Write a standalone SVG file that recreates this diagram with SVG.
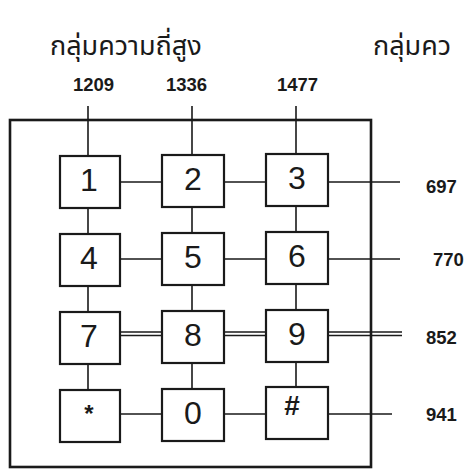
<svg xmlns="http://www.w3.org/2000/svg" width="474" height="470" viewBox="0 0 474 470">
<style>
.key rect{fill:#fff;stroke:#1a1a1a;stroke-width:2.2}
.key text{font-family:"Liberation Sans",Arial,sans-serif;font-size:32px;fill:#1a1a1a;text-anchor:middle}
.ln{stroke:#1a1a1a;stroke-width:1.6;fill:none}
.num{font-family:"Liberation Sans",Arial,sans-serif;font-size:18.5px;font-weight:bold;fill:#1a1a1a}
.th{font-family:"Noto Sans Thai","Noto Sans","DejaVu Sans",sans-serif;font-size:27px;fill:#1a1a1a}
</style>
<rect width="474" height="470" fill="#fff"/>
<text class="th" x="50" y="55">กลุ่มความถี่สูง</text>
<text class="th" x="373" y="55">กลุ่มคว</text>
<text class="num" x="73" y="91">1209</text>
<text class="num" x="166" y="91">1336</text>
<text class="num" x="277" y="91">1477</text>
<text class="num" x="426" y="193">697</text>
<text class="num" x="433" y="266">770</text>
<text class="num" x="426" y="344">852</text>
<text class="num" x="426" y="421">941</text>
<rect x="10" y="120" width="361" height="347" fill="none" stroke="#1a1a1a" stroke-width="2.6"/>
<g id="connectors" class="ln">
<path d="M88 106V155M88 207V233M88 285V311M88 363V389"/>
<path d="M192 106V155M192 207V233M192 285V311M192 363V389"/>
<path d="M296 106V155M296 207V233M296 285V311M296 363V389"/>
<path d="M120 182H162M224 182H266M328 182H400"/>
<path d="M120 259H162M224 259H266M328 259H400"/>
<path d="M120 332H162M224 332H266M328 332H402M120 335.5H162M224 335.5H266M328 335.5H402"/>
<path d="M120 414H162M224 414H266M328 414H392"/>
</g>
<g id="k1" class="key"><rect x="60" y="156" width="60" height="52"/><text x="89" y="191">1</text></g>
<g id="k2" class="key"><rect x="162" y="155" width="62" height="52"/><text x="193" y="190">2</text></g>
<g id="k3" class="key"><rect x="266" y="154" width="62" height="52"/><text x="297" y="189">3</text></g>
<g id="k4" class="key"><rect x="60" y="234" width="60" height="52"/><text x="89" y="269">4</text></g>
<g id="k5" class="key"><rect x="162" y="233" width="62" height="52"/><text x="193" y="268">5</text></g>
<g id="k6" class="key"><rect x="266" y="232" width="62" height="52"/><text x="297" y="267">6</text></g>
<g id="k7" class="key"><rect x="60" y="312" width="60" height="52"/><text x="89" y="347">7</text></g>
<g id="k8" class="key"><rect x="162" y="311" width="62" height="52"/><text x="193" y="346">8</text></g>
<g id="k9" class="key"><rect x="266" y="310" width="62" height="52"/><text x="297" y="345">9</text></g>
<g id="kstar" class="key"><rect x="60" y="390" width="60" height="52"/><text x="89" y="422" style="font-size:24px;font-weight:bold">*</text></g>
<g id="k0" class="key"><rect x="162" y="389" width="62" height="52"/><text x="193" y="424">0</text></g>
<g id="khash" class="key"><rect x="266" y="387" width="62" height="52"/><text x="292" y="415" style="font-size:28px;font-weight:bold">#</text></g>
</svg>
